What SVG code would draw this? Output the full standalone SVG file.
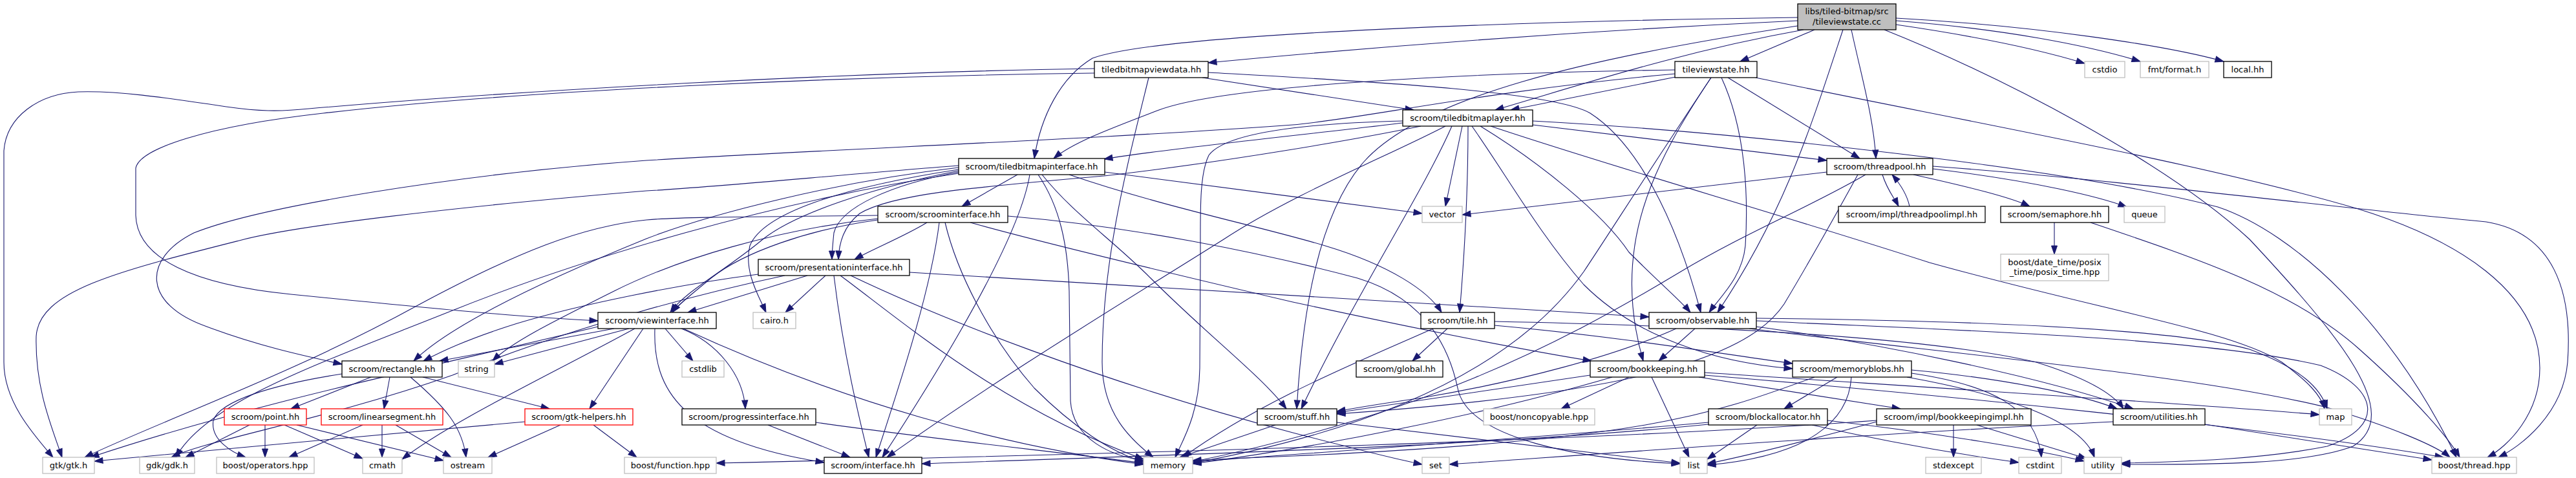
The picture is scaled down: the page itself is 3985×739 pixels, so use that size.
<svg xmlns="http://www.w3.org/2000/svg" width="3985" height="739" viewBox="0 0 3985 739">
<defs>
<style>
.e{fill:none;stroke:#191970;stroke-width:1.1;marker-end:url(#a)}
.n rect{fill:#fff;stroke:#000;stroke-width:1.3}
.n.g rect{stroke:#bfbfbf}
.n.r rect{stroke:#ff0000}
.n.f rect{fill:#bfbfbf}
.n text{font-family:"DejaVu Sans","Liberation Sans",sans-serif;font-size:13px;text-anchor:middle;fill:#000}
</style>
<marker id="a" markerUnits="userSpaceOnUse" markerWidth="14" markerHeight="10" refX="13" refY="5" orient="auto" overflow="visible">
<path d="M0,0.5 L13,5 L0,9.5 z" fill="#191970" stroke="#191970" stroke-width="1"/>
</marker>
</defs>
<rect x="0" y="0" width="3985" height="739" fill="#fff"/>
<g id="edges">
<path class="e" d="M2781,32 C2400,50 2100,75 1869,97"/>
<path class="e" d="M2781,27 C2400,32 1800,50 1690,90 C1640,120 1610,180 1600,245"/>
<path class="e" d="M2790,46 C2600,80 2450,130 2313,170"/>
<path class="e" d="M2807,46 L2692,95"/>
<path class="e" d="M2864,46 C2880,120 2898,180 2902,245"/>
<path class="e" d="M2781,40 C2450,90 2200,150 2110,250 C2040,330 2015,480 2006,632"/>
<path class="e" d="M2851,46 C2800,200 2760,330 2657,483"/>
<path class="e" d="M2933,38 C3050,55 3150,75 3225,98"/>
<path class="e" d="M2933,32 C3100,45 3230,70 3311,95"/>
<path class="e" d="M2933,28 C3150,40 3350,70 3440,95"/>
<path class="e" d="M2915,46 C3100,120 3350,250 3480,370 C3620,520 3720,640 3640,690 C3560,720 3400,718 3282,718"/>
<path class="e" d="M1693,106 C1300,112 800,140 478,168 C430,173 400,172 350,165 C250,150 180,140 121,142 C60,145 10,180 6,233 L6,560 C6,620 50,670 82,707"/>
<path class="e" d="M1693,113 C1300,118 800,140 500,175 C320,195 215,230 210,260 L210,333 C212,400 300,440 450,455 C650,475 800,490 925,496"/>
<path class="e" d="M1860,120 L2187,170"/>
<path class="e" d="M1869,112 C2100,125 2400,140 2460,175 C2530,220 2590,330 2631,483"/>
<path class="e" d="M1777,120 C1745,250 1705,400 1705,560 C1705,640 1750,680 1784,707"/>
<path class="e" d="M2592,119 L2337,170"/>
<path class="e" d="M2592,108 C2300,112 1900,130 1793,170 C1720,198 1660,220 1630,245"/>
<path class="e" d="M2592,114 C2300,140 2100,185 2000,193 C1700,215 1300,230 1000,248 C700,270 400,320 300,360 C220,400 220,470 320,505 C400,535 470,550 529,563"/>
<path class="e" d="M2663,120 C2700,200 2705,300 2700,380 C2695,430 2660,460 2644,483"/>
<path class="e" d="M2673,120 L2877,245"/>
<path class="e" d="M2716,120 C3000,180 3400,250 3648,323 C3800,370 3929,450 3929,569 C3929,640 3880,690 3848,707"/>
<path class="e" d="M2647,120 C2560,250 2490,380 2542,558"/>
<path class="e" d="M2647,120 C2560,250 2490,360 2450,420 C2350,560 2150,660 1845,716"/>
<path class="e" d="M2170,190 C2050,205 1800,230 1708,246"/>
<path class="e" d="M2198,195 C2100,215 1900,250 1708,272 C1500,290 1380,300 1330,330 C1305,350 1298,375 1297,401"/>
<path class="e" d="M2170,187 C2050,190 1900,200 1870,240 C1855,270 1857,330 1857,400 L1856,569 C1855,640 1830,680 1818,707"/>
<path class="e" d="M2262,195 L2236,319"/>
<path class="e" d="M2271,195 C2271,300 2265,400 2258,483"/>
<path class="e" d="M2246,195 C2200,300 2100,450 2013,632"/>
<path class="e" d="M2290,195 C2380,250 2480,330 2520,390 C2570,440 2600,465 2615,483"/>
<path class="e" d="M2371,193 C2550,215 2700,232 2826,248"/>
<path class="e" d="M2277,195 C2330,270 2380,360 2450,440 C2530,520 2650,560 2773,570"/>
<path class="e" d="M2306,195 C2500,260 2750,330 2985,406 C3250,480 3450,510 3530,560 C3570,590 3590,610 3596,632"/>
<path class="e" d="M2371,187 C2700,205 3200,260 3431,320 C3550,360 3700,500 3800,707"/>
<path class="e" d="M2236,195 C2150,240 2000,300 1893,370 C1750,460 1550,580 1372,707"/>
<path class="e" d="M1574,270 L1488,319"/>
<path class="e" d="M1483,266 C1380,285 1300,320 1290,360 C1288,380 1287,390 1287,401"/>
<path class="e" d="M1483,264 C1350,290 1230,330 1180,370 C1120,420 1060,450 1037,483"/>
<path class="e" d="M1483,262 C1300,290 1180,330 1160,380 C1150,420 1175,460 1185,483"/>
<path class="e" d="M1483,259 C1300,280 1100,330 1000,369 C850,430 700,500 640,558"/>
<path class="e" d="M1483,256 C1300,270 1100,290 1000,295 C700,320 450,350 370,372 C180,420 60,450 56,520 C54,600 80,660 96,707"/>
<path class="e" d="M1654,270 C1800,320 1950,350 2050,380 C2150,410 2210,450 2230,483"/>
<path class="e" d="M1709,266 C1850,285 2050,310 2200,330"/>
<path class="e" d="M1606,270 C1640,320 1652,380 1654,450 L1656,620 C1660,680 1720,705 1769,712"/>
<path class="e" d="M1593,270 C1580,350 1500,500 1365,707"/>
<path class="e" d="M1612,270 C1660,330 1720,370 1780,430 C1870,520 1950,580 1990,632"/>
<path class="e" d="M1483,268 C1200,310 900,400 700,480 C500,560 320,620 272,707"/>
<path class="e" d="M1434,344 C1400,365 1350,385 1322,401"/>
<path class="e" d="M1358,340 C1250,355 1150,390 1100,430 C1070,455 1050,470 1040,483"/>
<path class="e" d="M1358,338 C1200,355 1050,400 950,450 C850,500 790,530 762,558"/>
<path class="e" d="M1358,333 C1200,335 1050,335 1000,340 C900,350 800,390 650,470 C450,580 250,650 131,707"/>
<path class="e" d="M1453,344 C1440,450 1390,600 1355,707"/>
<path class="e" d="M1462,344 C1480,420 1530,520 1600,600 C1660,660 1720,700 1769,714"/>
<path class="e" d="M1501,344 C1600,372 1800,420 2000,467 C2200,510 2350,540 2462,558"/>
<path class="e" d="M1559,334 C1750,350 1950,390 2100,430 C2200,460 2240,530 2255,600 C2270,680 2450,710 2599,717"/>
<path class="e" d="M1249,426 L1064,483"/>
<path class="e" d="M1277,426 L1215,483"/>
<path class="e" d="M1290,426 C1305,550 1330,650 1344,707"/>
<path class="e" d="M1300,426 C1400,500 1550,630 1769,710"/>
<path class="e" d="M1407,421 C1800,445 2300,475 2551,490"/>
<path class="e" d="M1316,426 C1450,490 1700,590 2000,669 C2100,695 2160,710 2200,718"/>
<path class="e" d="M1173,424 C1050,440 900,470 800,500 C720,525 680,545 655,558"/>
<path class="e" d="M1214,426 C1100,450 900,500 700,580 C500,650 320,680 265,707"/>
<path class="e" d="M950,508 L680,558"/>
<path class="e" d="M973,508 L765,563"/>
<path class="e" d="M1029,508 L1072,558"/>
<path class="e" d="M1054,508 C1110,530 1150,580 1153,632"/>
<path class="e" d="M995,508 L912,632"/>
<path class="e" d="M982,508 C850,580 700,650 622,710"/>
<path class="e" d="M1013,508 C1010,600 1050,680 1275,715"/>
<path class="e" d="M1057,508 C1300,620 1550,690 1769,718"/>
<path class="e" d="M925,505 C700,560 400,620 140,707"/>
<path class="e" d="M574,583 L450,632"/>
<path class="e" d="M603,583 L594,632"/>
<path class="e" d="M654,583 L850,632"/>
<path class="e" d="M635,583 C690,630 715,660 721,707"/>
<path class="e" d="M529,578 C420,595 340,620 330,650 C325,680 360,700 380,707"/>
<path class="e" d="M386,657 L287,707"/>
<path class="e" d="M410,657 L410,707"/>
<path class="e" d="M440,657 L561,709"/>
<path class="e" d="M459,657 L686,712"/>
<path class="e" d="M561,657 L447,707"/>
<path class="e" d="M591,657 L591,707"/>
<path class="e" d="M612,657 L698,707"/>
<path class="e" d="M812,652 C600,670 350,695 146,713"/>
<path class="e" d="M867,657 L755,707"/>
<path class="e" d="M918,657 L985,707"/>
<path class="e" d="M1188,657 L1315,707"/>
<path class="e" d="M1262,653 C1450,680 1650,700 1769,716"/>
<path class="e" d="M1973,657 L1825,707"/>
<path class="e" d="M2068,653 C2300,680 2500,705 2599,716"/>
<path class="e" d="M2239,508 L2185,558"/>
<path class="e" d="M2312,503 C2500,520 2650,545 2773,562"/>
<path class="e" d="M2217,508 C2100,560 1950,620 1830,707"/>
<path class="e" d="M2312,497 C2700,505 3000,525 3150,560 C3230,585 3270,610 3285,632"/>
<path class="e" d="M2622,508 L2566,558"/>
<path class="e" d="M2593,508 C2500,550 2350,590 2200,615 C2130,625 2090,632 2068,636"/>
<path class="e" d="M2717,492 C3000,495 3350,505 3480,540 C3560,570 3590,600 3600,632"/>
<path class="e" d="M2717,496 C3000,510 3400,520 3590,565 C3680,600 3690,660 3600,690 C3500,710 3380,714 3282,716"/>
<path class="e" d="M2706,508 C3000,545 3400,580 3600,630 C3700,660 3770,690 3790,707"/>
<path class="e" d="M2717,505 C2900,530 3150,580 3300,632"/>
<path class="e" d="M2460,580 L2068,638"/>
<path class="e" d="M2494,583 C2300,640 2050,690 1845,717"/>
<path class="e" d="M2520,583 L2415,632"/>
<path class="e" d="M2555,583 L2613,707"/>
<path class="e" d="M2628,583 L2940,632"/>
<path class="e" d="M2637,576 C3000,600 3400,625 3588,641"/>
<path class="e" d="M2637,580 C3000,610 3500,660 3780,707"/>
<path class="e" d="M2842,583 L2760,632"/>
<path class="e" d="M2864,583 C2860,650 2800,705 2641,719"/>
<path class="e" d="M2807,583 C2650,640 2550,680 2000,705 C1920,708 1880,710 1845,712"/>
<path class="e" d="M2957,572 C3100,585 3220,610 3275,632"/>
<path class="e" d="M2957,577 C3080,595 3150,630 3158,707"/>
<path class="e" d="M2950,583 C3100,610 3220,650 3240,707"/>
<path class="e" d="M2718,657 L2641,710"/>
<path class="e" d="M2643,653 C2400,675 2100,695 1845,714"/>
<path class="e" d="M2643,656 C2300,690 1900,700 1426,717"/>
<path class="e" d="M2803,657 C2950,690 3050,705 3123,715"/>
<path class="e" d="M2827,650 C3000,670 3150,695 3224,713"/>
<path class="e" d="M3022,657 L3022,707"/>
<path class="e" d="M3058,657 L3228,709"/>
<path class="e" d="M2903,652 C2800,680 2700,705 2641,717"/>
<path class="e" d="M2903,650 C2500,680 1800,700 1108,716"/>
<path class="e" d="M3411,656 L3762,711"/>
<path class="e" d="M3269,652 C2900,670 2500,700 2242,718"/>
<path class="e" d="M2826,266 L2262,332"/>
<path class="e" d="M2912,270 C2920,295 2930,305 2937,319"/>
<path class="e" d="M2954,319 C2950,300 2940,285 2927,270"/>
<path class="e" d="M2960,270 C3050,290 3110,305 3140,319"/>
<path class="e" d="M2990,261 C3150,280 3250,305 3290,320"/>
<path class="e" d="M2990,257 C3300,280 3600,320 3846,343 C3950,360 3980,450 3972,560 C3965,640 3900,690 3865,707"/>
<path class="e" d="M2886,270 C2800,320 2700,360 2600,420 C2400,540 2200,640 1845,714"/>
<path class="e" d="M2874,270 C2830,350 2790,420 2760,470 C2700,560 2500,610 2068,640"/>
<path class="e" d="M3178,344 L3178,393"/>
<path class="e" d="M3234,344 C3400,400 3550,450 3650,540 C3740,620 3790,680 3805,707"/>
</g>
<g id="n_cc" class="n f"><rect x="2781" y="6" width="152" height="40"/><text x="2857" y="22">libs/tiled-bitmap/src</text><text x="2857" y="38">/tileviewstate.cc</text></g>
<g id="n_tbvd" class="n"><rect x="1693" y="95" width="176" height="25"/><text x="1781" y="112">tiledbitmapviewdata.hh</text></g>
<g id="n_tvs" class="n"><rect x="2591" y="95" width="127" height="25"/><text x="2654.5" y="112">tileviewstate.hh</text></g>
<g id="n_cstdio" class="n g"><rect x="3225" y="95" width="62" height="25"/><text x="3256" y="112">cstdio</text></g>
<g id="n_fmt" class="n g"><rect x="3311" y="95" width="106" height="25"/><text x="3364" y="112">fmt/format.h</text></g>
<g id="n_local" class="n"><rect x="3440" y="95" width="74" height="25"/><text x="3477" y="112">local.hh</text></g>
<g id="n_tbl" class="n"><rect x="2170" y="170" width="201" height="25"/><text x="2270.5" y="187">scroom/tiledbitmaplayer.hh</text></g>
<g id="n_tbi" class="n"><rect x="1483" y="245" width="226" height="25"/><text x="1596" y="262">scroom/tiledbitmapinterface.hh</text></g>
<g id="n_tp" class="n"><rect x="2826" y="245" width="164" height="25"/><text x="2908" y="262">scroom/threadpool.hh</text></g>
<g id="n_si" class="n"><rect x="1358" y="319" width="201" height="25"/><text x="1458.5" y="336">scroom/scroominterface.hh</text></g>
<g id="n_vector" class="n g"><rect x="2200" y="319" width="62" height="25"/><text x="2231" y="336">vector</text></g>
<g id="n_tpi" class="n"><rect x="2844" y="319" width="227" height="25"/><text x="2957.5" y="336">scroom/impl/threadpoolimpl.hh</text></g>
<g id="n_sem" class="n"><rect x="3095" y="319" width="167" height="25"/><text x="3178.5" y="336">scroom/semaphore.hh</text></g>
<g id="n_queue" class="n g"><rect x="3286" y="319" width="63" height="25"/><text x="3317.5" y="336">queue</text></g>
<g id="n_pi" class="n"><rect x="1173" y="401" width="234" height="25"/><text x="1290" y="418">scroom/presentationinterface.hh</text></g>
<g id="n_dt" class="n g"><rect x="3095" y="393" width="167" height="41"/><text x="3178.5" y="410">boost/date_time/posix</text><text x="3178.5" y="425">_time/posix_time.hpp</text></g>
<g id="n_vi" class="n"><rect x="925" y="483" width="183" height="25"/><text x="1016.5" y="500">scroom/viewinterface.hh</text></g>
<g id="n_cairo" class="n g"><rect x="1165" y="483" width="66" height="25"/><text x="1198" y="500">cairo.h</text></g>
<g id="n_tile" class="n"><rect x="2198" y="483" width="114" height="25"/><text x="2255" y="500">scroom/tile.hh</text></g>
<g id="n_obs" class="n"><rect x="2551" y="483" width="166" height="25"/><text x="2634" y="500">scroom/observable.hh</text></g>
<g id="n_rect" class="n"><rect x="529" y="558" width="155" height="25"/><text x="606.5" y="575">scroom/rectangle.hh</text></g>
<g id="n_string" class="n g"><rect x="709" y="558" width="56" height="25"/><text x="737" y="575">string</text></g>
<g id="n_cstdlib" class="n g"><rect x="1055" y="558" width="65" height="25"/><text x="1087.5" y="575">cstdlib</text></g>
<g id="n_global" class="n"><rect x="2098" y="558" width="134" height="25"/><text x="2165" y="575">scroom/global.hh</text></g>
<g id="n_bk" class="n"><rect x="2460" y="558" width="177" height="25"/><text x="2548.5" y="575">scroom/bookkeeping.hh</text></g>
<g id="n_mb" class="n"><rect x="2773" y="558" width="184" height="25"/><text x="2865" y="575">scroom/memoryblobs.hh</text></g>
<g id="n_point" class="n r"><rect x="347" y="632" width="127" height="25"/><text x="410.5" y="649">scroom/point.hh</text></g>
<g id="n_ls" class="n r"><rect x="497" y="632" width="188" height="25"/><text x="591" y="649">scroom/linearsegment.hh</text></g>
<g id="n_gh" class="n r"><rect x="812" y="632" width="167" height="25"/><text x="895.5" y="649">scroom/gtk-helpers.hh</text></g>
<g id="n_prog" class="n"><rect x="1055" y="632" width="207" height="25"/><text x="1158.5" y="649">scroom/progressinterface.hh</text></g>
<g id="n_stuff" class="n"><rect x="1945" y="632" width="123" height="25"/><text x="2006.5" y="649">scroom/stuff.hh</text></g>
<g id="n_nc" class="n g"><rect x="2295" y="632" width="172" height="25"/><text x="2381" y="649">boost/noncopyable.hpp</text></g>
<g id="n_ba" class="n"><rect x="2643" y="632" width="184" height="25"/><text x="2735" y="649">scroom/blockallocator.hh</text></g>
<g id="n_bki" class="n"><rect x="2903" y="632" width="239" height="25"/><text x="3022.5" y="649">scroom/impl/bookkeepingimpl.hh</text></g>
<g id="n_util" class="n"><rect x="3269" y="632" width="142" height="25"/><text x="3340" y="649">scroom/utilities.hh</text></g>
<g id="n_map" class="n g"><rect x="3588" y="632" width="50" height="25"/><text x="3613" y="649">map</text></g>
<g id="n_gtk" class="n g"><rect x="66" y="707" width="80" height="25"/><text x="106" y="724">gtk/gtk.h</text></g>
<g id="n_gdk" class="n g"><rect x="216" y="707" width="85" height="25"/><text x="258.5" y="724">gdk/gdk.h</text></g>
<g id="n_ops" class="n g"><rect x="335" y="707" width="151" height="25"/><text x="410.5" y="724">boost/operators.hpp</text></g>
<g id="n_cmath" class="n g"><rect x="561" y="707" width="61" height="25"/><text x="591.5" y="724">cmath</text></g>
<g id="n_ostream" class="n g"><rect x="686" y="707" width="75" height="25"/><text x="723.5" y="724">ostream</text></g>
<g id="n_func" class="n g"><rect x="966" y="707" width="142" height="25"/><text x="1037" y="724">boost/function.hpp</text></g>
<g id="n_intf" class="n"><rect x="1275" y="707" width="151" height="25"/><text x="1350.5" y="724">scroom/interface.hh</text></g>
<g id="n_memory" class="n g"><rect x="1769" y="707" width="76" height="25"/><text x="1807" y="724">memory</text></g>
<g id="n_set" class="n g"><rect x="2200" y="707" width="42" height="25"/><text x="2221" y="724">set</text></g>
<g id="n_list" class="n g"><rect x="2599" y="707" width="42" height="25"/><text x="2620" y="724">list</text></g>
<g id="n_stdexcept" class="n g"><rect x="2979" y="707" width="86" height="25"/><text x="3022" y="724">stdexcept</text></g>
<g id="n_cstdint" class="n g"><rect x="3123" y="707" width="66" height="25"/><text x="3156" y="724">cstdint</text></g>
<g id="n_utility" class="n g"><rect x="3224" y="707" width="58" height="25"/><text x="3253" y="724">utility</text></g>
<g id="n_thread" class="n g"><rect x="3762" y="707" width="131" height="25"/><text x="3827.5" y="724">boost/thread.hpp</text></g>
</svg>
